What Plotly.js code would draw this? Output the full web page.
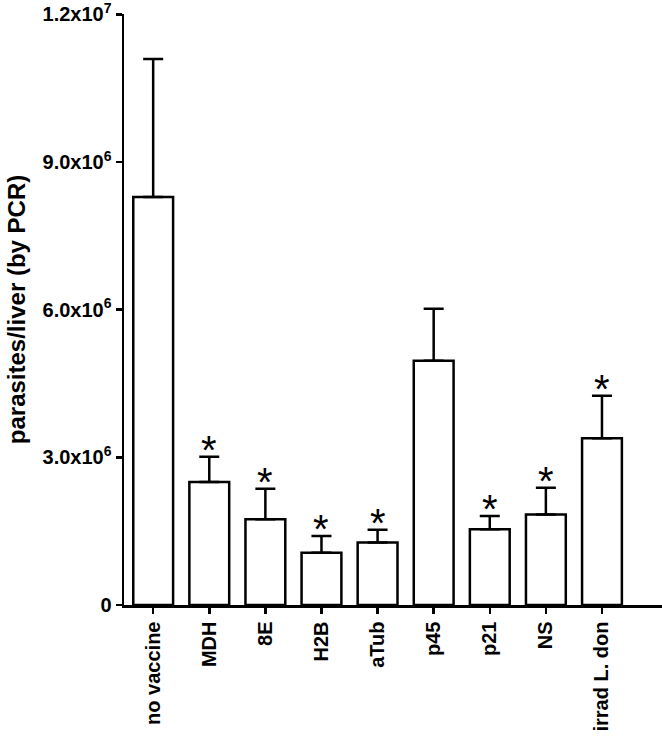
<!DOCTYPE html>
<html><head><meta charset="utf-8">
<script src="https://cdn.plot.ly/plotly-3.0.1.min.js"></script>
<style>body{margin:0;padding:0;background:#fff}#chart{width:662px;height:738px}</style>
</head><body><div id="chart"></div>
<script>
const categories = ["no vaccine","MDH","8E","H2B","aTub","p45","p21","NS","irrad L. don"];
const means = [8.29e6, 2.50e6, 1.74e6, 1.06e6, 1.27e6, 4.96e6, 1.54e6, 1.84e6, 3.39e6];
const errors = [2.80e6, 0.51e6, 0.62e6, 0.34e6, 0.26e6, 1.06e6, 0.27e6, 0.54e6, 0.86e6];
const significant = [false, true, true, true, true, false, true, true, true];
const tickVals = [0, 3e6, 6e6, 9e6, 1.2e7];
const tickText = ["0", "3.0x10<sup>6</sup>", "6.0x10<sup>6</sup>", "9.0x10<sup>6</sup>", "1.2x10<sup>7</sup>"];

const FONT = 'Liberation Sans, Arial, sans-serif';
const trace = {
  type: 'bar',
  x: categories.map((c,i)=>i),
  y: means,
  width: 0.71,
  marker: {color: '#ffffff', line: {color: '#000000', width: 2.5}},
  error_y: {type: 'data', symmetric: false, array: errors, arrayminus: means.map(()=>0),
            color: '#000000', thickness: 2.5, width: 10},
  hoverinfo: 'none'
};

const annotations = [];
significant.forEach((s,i)=>{
  if (s) annotations.push({x: i, y: means[i]+errors[i], xref:'x', yref:'y', text:'*',
    showarrow:false, yanchor:'bottom', yshift:-17, font:{family:FONT, size:40, color:'#000'}});
});

const layout = {
  width: 662, height: 738,
  margin: {l: 124, r: 0, t: 14, b: 133},
  paper_bgcolor: '#fff', plot_bgcolor: '#fff',
  showlegend: false,
  font: {family: FONT, color: '#000'},
  xaxis: {
    range: [-0.52, 9.07], tickmode: 'array', tickvals: categories.map((c,i)=>i), ticktext: categories,
    tickangle: -90, ticks: 'outside', ticklen: 6, tickwidth: 2.5, tickcolor: '#000',
    showline: true, linecolor: '#000', linewidth: 2.5, showgrid: false, zeroline: false,
    ticklabeloverflow: 'allow',
    tickfont: {size: 20, family: FONT, weight: 'bold'}
  },
  yaxis: {
    range: [0, 1.2006e7], tickmode: 'array', tickvals: tickVals, ticktext: tickText,
    ticks: 'outside', ticklen: 6, tickwidth: 2.5, tickcolor: '#000',
    showline: true, linecolor: '#000', linewidth: 2.5, showgrid: false, zeroline: false,
    ticklabeloverflow: 'allow',
    tickfont: {size: 20, family: FONT, weight: 'bold'},
    title: {text: 'parasites/liver (by PCR)', standoff: 10,
            font: {size: 24, family: FONT, weight: 'bold'}}
  },
  annotations: annotations
};
Plotly.newPlot('chart', [trace], layout, {displayModeBar: false, staticPlot: true});
</script></body></html>
